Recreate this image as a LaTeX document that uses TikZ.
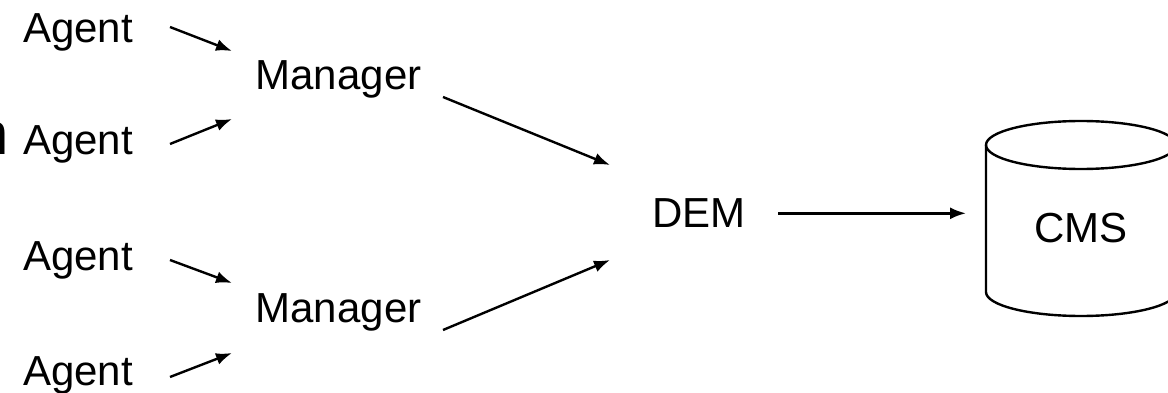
\documentclass[tikz,border=0pt]{standalone}
\usepackage{fontspec}
\setmainfont{Liberation Sans}
\usetikzlibrary{arrows.meta}
\begin{document}
\begin{tikzpicture}[x=1pt,y=-1pt,
  lbl/.style={anchor=base,inner sep=0pt,font=\fontsize{42}{50}\selectfont},
  link/.style={line width=2.4pt,-{Latex[length=16pt,width=12pt]}},
  drum/.style={line width=2.4pt}]
\useasboundingbox (0,0) rectangle (1168,393);
\clip (0,0) rectangle (1168,393);

% edge fragment on the left
\node[anchor=base west,inner sep=0pt,font=\fontsize{60}{70}\selectfont] (frag) at (-24.5,154.3) {n};

% agents
\node[lbl] (a1) at (78,42.7) {Agent};
\node[lbl] (a2) at (78,154.3) {Agent};
\node[lbl] (a3) at (78,270) {Agent};
\node[lbl] (a4) at (78,385) {Agent};

% managers, DEM and CMS
\node[lbl] (m1) at (338.5,89.3) {Manager};
\node[lbl] (m2) at (338.5,322.3) {Manager};
\node[lbl] (dem) at (699,227.3) {DEM};
\node[lbl] (cms) at (1081,242.7) {CMS};

% connector end points
\coordinate (a1o) at (170,27);   \coordinate (m1i1) at (232,51);
\coordinate (a2o) at (170,144);  \coordinate (m1i2) at (232,119);
\coordinate (a3o) at (170,260);  \coordinate (m2i1) at (232,283);
\coordinate (a4o) at (170,377);  \coordinate (m2i2) at (232,353);
\coordinate (m1o) at (443,97);   \coordinate (demi1) at (610,165);
\coordinate (m2o) at (443,330);  \coordinate (demi2) at (610,260);
\coordinate (demo) at (778,213.3); \coordinate (cmsi) at (966,213.3);

\draw[link] (a1o) -- (m1i1);
\draw[link] (a2o) -- (m1i2);
\draw[link] (a3o) -- (m2i1);
\draw[link] (a4o) -- (m2i2);
\draw[link] (m1o) -- (demi1);
\draw[link] (m2o) -- (demi2);
\draw[link] (demo) -- (cmsi);

% database drum around CMS
\draw[drum] (1081,145) ellipse [x radius=95pt,y radius=24pt];
\draw[drum] (986,145) -- (986,292)
  arc [start angle=180,end angle=360,x radius=95pt,y radius=24pt]
  -- (1176,145);
\end{tikzpicture}
\end{document}
